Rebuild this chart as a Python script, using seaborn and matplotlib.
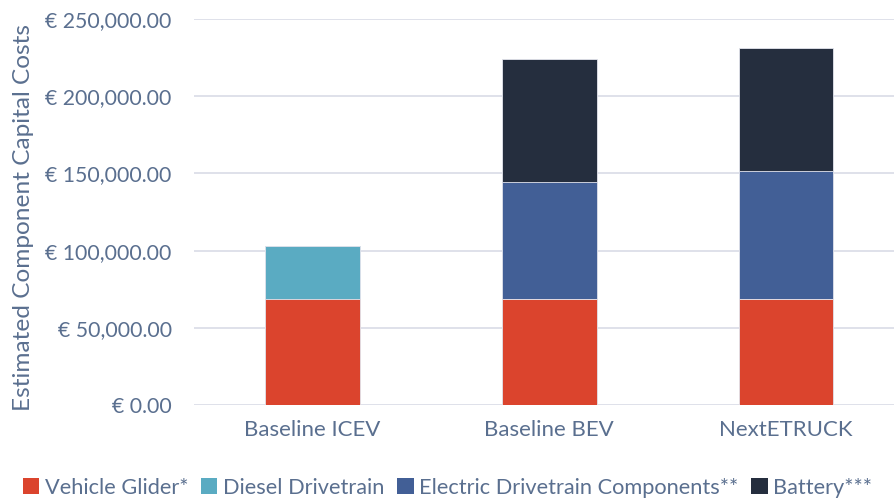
import numpy as np
import pandas as pd
import seaborn as sns
import matplotlib.pyplot as plt
from matplotlib.patches import Patch
from matplotlib.ticker import FuncFormatter

# data
categories = ["Baseline ICEV", "Baseline BEV", "NextETRUCK"]
series = ["Vehicle Glider*", "Diesel Drivetrain", "Electric Drivetrain Components**", "Battery***"]
glider = [68700, 68700, 68700]
diesel = [34300, 0, 0]
electric = [0, 75700, 82900]
battery = [0, 79400, 79800]
colors = ["#DB442D", "#5AABC2", "#425F96", "#252E3E"]

text_col = "#5A6F8F"

sns.set_theme(style="white")
plt.rcParams["font.family"] = ["Lato", "DejaVu Sans"]

parts = np.array([glider, diesel, electric, battery], dtype=float)
cum = parts.cumsum(axis=0)

fig = plt.figure(figsize=(8.95, 5.01), dpi=100)
ax = fig.add_axes([0.2168, 0.1916, 0.7832, 0.7704])

# stacked bars drawn as cumulative totals, largest first
for i in range(len(series) - 1, -1, -1):
    df = pd.DataFrame({"category": categories, "value": cum[i]})
    sns.barplot(data=df, x="category", y="value", color=colors[i], width=0.4,
                saturation=1, edgecolor="#E4E6EE", linewidth=0.6, ax=ax)

ax.set_ylim(0, 250000)
ax.set_xlim(-0.5, 2.46)
ax.set_yticks(np.arange(0, 250001, 50000))
ax.yaxis.set_major_formatter(FuncFormatter(lambda v, p: f"€ {v:,.2f}"))
ax.grid(axis="y", color="#D9DCE6", linewidth=1.2)
ax.set_axisbelow(True)
for s in ax.spines.values():
    s.set_visible(False)
ax.tick_params(axis="both", length=0, labelcolor=text_col)
ax.tick_params(axis="y", labelsize=15.3, pad=16)
ax.tick_params(axis="x", labelsize=16, pad=11)
ax.set_xlabel("")
ax.set_ylabel("Estimated Component Capital Costs", fontsize=17.6, color=text_col)
ax.yaxis.set_label_coords(-0.228, 0.485)

handles = [Patch(facecolor=c, edgecolor="none") for c in colors]
fig.legend(handles, series, loc="center", bbox_to_anchor=(0.5, 0.026), ncol=4, frameon=False,
           fontsize=15.7, labelcolor=text_col, handlelength=0.75, handleheight=0.75,
           handletextpad=0.25, columnspacing=0.6)

fig.savefig("out.png", dpi=100)
